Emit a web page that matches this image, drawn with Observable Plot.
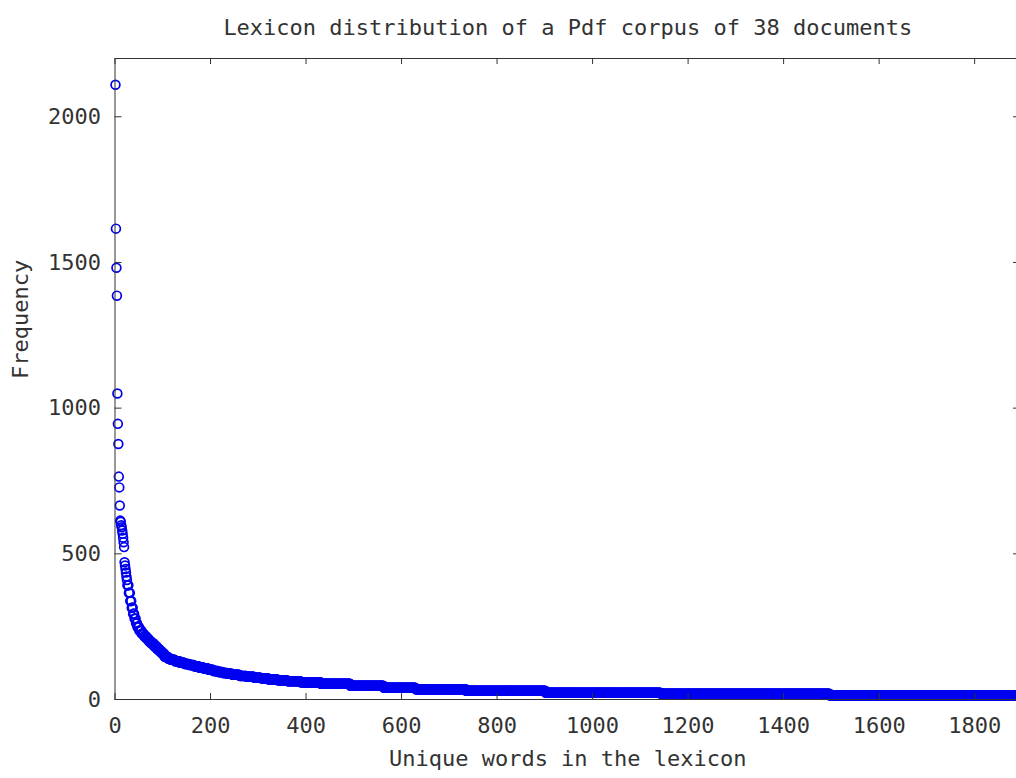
<!DOCTYPE html>
<html><head><meta charset="utf-8">
<script src="https://cdn.jsdelivr.net/npm/d3@7"></script>
<script src="https://cdn.jsdelivr.net/npm/@observablehq/plot@0.6"></script>
<style>html,body{margin:0;padding:0;background:#fff;overflow:hidden}svg{max-width:none !important;height:auto}</style>
</head><body><div id="chart"></div>
<script>
const title = "Lexicon distribution of a Pdf corpus of 38 documents";
const xLabel = "Unique words in the lexicon";
const yLabel = "Frequency";
const xTicks = [0, 200, 400, 600, 800, 1000, 1200, 1400, 1600, 1800];
const yTicks = [0, 500, 1000, 1500, 2000];
const xMax = 1896;
const yMax = 2200;

// frequencies of the most frequent words, rank 1..25
const headFreq = [2110, 1616, 1482, 1386, 1050, 946, 877, 765, 728, 666, 614, 610, 598, 591, 580, 569, 555, 540, 523, 471, 460, 448, 436, 422, 410];
// remaining words read as plateaus: last rank of each plateau and its frequency
const tailEndRank = [28, 31, 34, 37, 40, 43, 46, 50, 55, 60, 65, 70, 75, 81, 87, 93, 98, 103, 110, 116, 125, 135, 145, 155, 165, 175, 185, 195, 205, 215, 225, 235, 245, 260, 275, 290, 305, 320, 340, 360, 388, 430, 492, 562, 629, 734, 901, 1142, 1496, 1896];
const tailFreq = [392, 366, 338, 315, 294, 278, 262, 249, 237, 226, 217, 209, 200, 192, 183, 173, 165, 157, 147, 141, 136, 131, 126, 122, 118, 114, 110, 106, 102, 98, 94, 91, 88, 85, 81, 78, 75, 73, 69, 66, 63, 59, 54, 47, 40, 35, 30, 23, 20, 14];

const points = [];
headFreq.forEach((f, i) => points.push({rank: i + 1, freq: f}));
let r = headFreq.length + 1;
tailEndRank.forEach((end, i) => { for (; r <= end; r++) points.push({rank: r, freq: tailFreq[i]}); });

const W = 1060, H = 778, mL = 114.5, mR = 40, mT = 58, mB = 79;
const plotW = W - mL - mR, plotH = H - mT - mB;
const font = "'DejaVu Sans Mono', monospace";
const ink = "#333";
const txt = "#333";
const fs = 22;
const fmt = d => String(d);

const chart = Plot.plot({
  width: W, height: H,
  marginLeft: mL, marginRight: mR, marginTop: mT, marginBottom: mB,
  style: {fontFamily: font, fontSize: fs + "px", background: "#fff", overflow: "visible", maxWidth: "none"},
  x: {domain: [0, xMax]},
  y: {domain: [0, yMax]},
  marks: [
    Plot.dot(points, {x: "rank", y: "freq", r: 4.4, stroke: "#0000f0", strokeWidth: 1.7, fill: "none"}),
    Plot.frame({stroke: ink}),
    Plot.tickX(xTicks, {x: d => d, insetTop: plotH - 6, stroke: ink}),
    Plot.tickX(xTicks, {x: d => d, insetBottom: plotH - 6, stroke: ink}),
    Plot.tickY(yTicks, {y: d => d, insetRight: plotW - 7, stroke: ink}),
    Plot.tickY(yTicks, {y: d => d, insetLeft: plotW - 7, stroke: ink}),
    Plot.axisX(xTicks, {tickSize: 0, tickPadding: 18, tickFormat: fmt, label: null, fontSize: fs, fill: txt, fontFamily: font}),
    Plot.axisY(yTicks, {tickSize: 0, tickPadding: 14, tickFormat: fmt, label: null, fontSize: fs, fill: txt, fontFamily: font}),
    Plot.text([title], {frameAnchor: "top", dy: -39, fontSize: fs, fill: txt, fontFamily: font}),
    Plot.text([xLabel], {frameAnchor: "bottom", dy: 66, fontSize: fs, fill: txt, fontFamily: font}),
    Plot.text([yLabel], {frameAnchor: "left", dx: -94, rotate: -90, fontSize: fs, fill: txt, fontFamily: font})
  ]
});
document.getElementById("chart").appendChild(chart);
</script>
</body></html>
